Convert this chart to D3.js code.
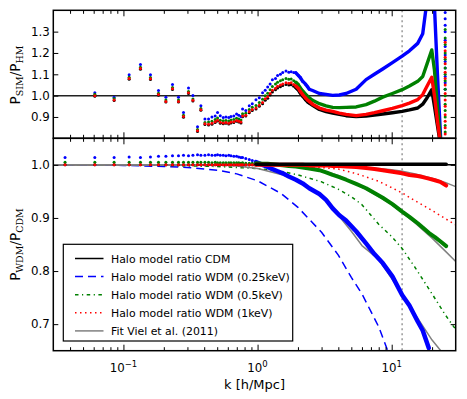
<!DOCTYPE html>
<html>
<head>
<meta charset="utf-8">
<script src="https://cdnjs.cloudflare.com/ajax/libs/d3/7.8.5/d3.min.js"></script>
<style>
  body { margin: 0; background: #fff; }
  text { font-family: "DejaVu Sans", sans-serif; }
</style>
</head>
<body>
<div id="chart"></div>
<script>
// k values (h/Mpc) of the simulation points
var kSparse = [0.0612, 0.0852, 0.1103, 0.1339, 0.159, 0.1825, 0.2073, 0.2321, 0.2573, 0.2804, 0.3055, 0.3296, 0.3566, 0.378, 0.405];
var kDense = [0.431, 0.457, 0.483, 0.503, 0.527, 0.555, 0.581, 0.610, 0.633, 0.665, 0.697, 0.724, 0.752, 0.773, 0.817, 0.867, 0.913, 0.973, 1.03, 1.09, 1.14, 1.19, 1.24, 1.29, 1.36, 1.41, 1.48, 1.54, 1.63, 1.71, 1.78, 1.86, 1.93, 2.01, 2.08, 2.17, 2.27, 2.37, 2.43];
var kLine = [2.57, 2.89, 3.24, 3.63, 4.07, 4.57, 5.43, 6.44, 7.43, 8.57, 10.12, 11.96, 13.56, 15.63, 17.03, 18.37, 19.89, 20.83, 21.93, 23.37];

// top panel: P_SIM / P_HM
var topBlue = [1.013, 0.992, 1.098, 1.146, 1.098, 1.024, 0.992, 1.052, 0.992, 0.921, 1.036, 1.001, 0.854, 0.953, 0.891,
  0.891, 0.90, 0.905, 0.921, 0.906, 0.898, 0.90, 0.897, 0.902, 0.905, 0.914, 0.908, 0.902, 0.937, 0.93, 0.953, 0.962, 0.981, 0.99, 1.013,
  1.025, 1.041, 1.055, 1.075, 1.08, 1.094, 1.10, 1.108, 1.115, 1.11, 1.112, 1.108, 1.107, 1.095, 1.085, 1.067, 1.055, 1.04, 1.03,
  1.024, 1.01, 1.006, 1.001, 1.003, 1.01, 1.03, 1.075, 1.10, 1.125, 1.155, 1.185, 1.21, 1.245, 1.29, 1.45, 1.6, 1.42, 1.1, 0.75];
var topGreen = [1.006, 0.986, 1.086, 1.133, 1.085, 1.011, 0.979, 1.038, 0.979, 0.908, 1.019, 0.984, 0.841, 0.94, 0.874,
  0.876, 0.88, 0.888, 0.895, 0.885, 0.882, 0.884, 0.881, 0.886, 0.888, 0.894, 0.89, 0.886, 0.915, 0.918, 0.935, 0.946, 0.954, 0.968, 0.983,
  1.0, 1.011, 1.027, 1.043, 1.054, 1.063, 1.07, 1.075, 1.08, 1.077, 1.078, 1.07, 1.063, 1.052, 1.037, 1.022, 1.008, 0.996, 0.99,
  0.978, 0.962, 0.952, 0.945, 0.944, 0.945, 0.947, 0.958, 0.974, 0.993, 1.01, 1.028, 1.045, 1.067, 1.09, 1.15, 1.214, 1.12, 0.95, 0.75];
var topRed = [1.0, 0.98, 1.08, 1.127, 1.079, 1.005, 0.973, 1.032, 0.973, 0.902, 1.013, 0.978, 0.835, 0.934, 0.868,
  0.866, 0.87, 0.878, 0.885, 0.875, 0.872, 0.874, 0.871, 0.876, 0.878, 0.884, 0.88, 0.876, 0.905, 0.908, 0.925, 0.935, 0.942, 0.955, 0.968,
  0.985, 0.995, 1.01, 1.025, 1.035, 1.044, 1.05, 1.055, 1.06, 1.058, 1.06, 1.052, 1.045, 1.035, 1.02, 1.005, 0.99, 0.978, 0.973,
  0.96, 0.942, 0.932, 0.926, 0.918, 0.912, 0.906, 0.912, 0.92, 0.929, 0.94, 0.953, 0.965, 0.981, 1.005, 1.045, 1.086, 1.0, 0.88, 0.75];
var topBlack = [0.997, 0.977, 1.077, 1.124, 1.076, 1.002, 0.97, 1.029, 0.97, 0.899, 1.01, 0.975, 0.832, 0.931, 0.865,
  0.862, 0.866, 0.874, 0.881, 0.871, 0.868, 0.87, 0.867, 0.872, 0.874, 0.88, 0.876, 0.872, 0.901, 0.904, 0.92, 0.93, 0.937, 0.95, 0.962,
  0.978, 0.988, 1.003, 1.017, 1.027, 1.036, 1.042, 1.047, 1.052, 1.05, 1.051, 1.044, 1.037, 1.027, 1.012, 0.997, 0.982, 0.97, 0.965,
  0.955, 0.935, 0.925, 0.918, 0.912, 0.906, 0.902, 0.904, 0.909, 0.914, 0.92, 0.926, 0.933, 0.942, 0.96, 0.99, 1.028, 0.95, 0.86, 0.75];

// scattered points at the last k bin
var kLast = 25.04;
var colBlue = [1.39, 1.36, 1.33, 1.30, 1.26, 1.23, 1.19, 1.16, 1.13, 1.09, 1.06, 1.03];
var colGreen = [1.31, 1.27, 1.24, 1.2, 1.17, 1.13, 1.1, 1.07, 1.03, 1.0, 0.96, 0.93, 0.9, 0.86, 0.83];
var colRed = [1.25, 1.21, 1.18, 1.15, 1.11, 1.08, 1.05, 1.01, 0.98, 0.95, 0.91, 0.88, 0.85, 0.82];

// bottom panel: P_WDM / P_CDM from simulations
var kBotDots = [0.0367, 0.0612, 0.0852, 0.1103, 0.1339, 0.159, 0.1825, 0.2073, 0.2321, 0.2573, 0.2804, 0.3055, 0.3296, 0.3566, 0.378, 0.405,
  0.431, 0.457, 0.483, 0.503, 0.527, 0.555, 0.581, 0.610, 0.633, 0.665, 0.697, 0.724, 0.752, 0.773, 0.817, 0.867, 0.913, 0.973];
var botDotBlue = [1.014, 1.014, 1.014, 1.015, 1.014, 1.015, 1.016, 1.016, 1.017, 1.017, 1.018, 1.017, 1.018, 1.019, 1.018, 1.018, 1.019,
  1.018, 1.018, 1.019, 1.018, 1.018, 1.017, 1.018, 1.017, 1.016, 1.016, 1.015, 1.014, 1.014, 1.012, 1.01, 1.008, 1.005];
var botDotGreen = [1.005, 1.005, 1.005, 1.005, 1.005, 1.005, 1.005, 1.005, 1.005, 1.005, 1.005, 1.005, 1.005, 1.005, 1.005, 1.005, 1.005,
  1.004, 1.005, 1.004, 1.004, 1.004, 1.004, 1.004, 1.004, 1.004, 1.004, 1.004, 1.003, 1.004, 1.003, 1.003, 1.003, 1.003];
var botDotRed = [1.0, 1.0, 1.0, 1.0, 1.0, 1.0, 1.0, 1.0, 1.0, 1.0, 1.0, 1.0, 1.0, 1.0, 1.0, 1.0, 1.0,
  1.0, 1.0, 1.0, 1.0, 1.0, 1.0, 1.0, 1.0, 1.0, 1.0, 1.0, 1.0, 1.0, 1.0, 1.0, 1.0, 1.0];

var kBotLine = [0.973, 1.09, 1.19, 1.29, 1.41, 1.54, 1.71, 1.93, 2.17, 2.43, 2.89, 3.24, 3.63, 4.07, 4.57, 5.43, 6.44, 7.43, 8.57, 10.12,
  11.96, 13.56, 15.63, 17.03, 18.9, 21.0, 23.0, 25.5];
var botBlue = [1.005, 1.0, 0.996, 0.992, 0.988, 0.984, 0.978, 0.972, 0.965, 0.956, 0.945, 0.934, 0.918, 0.905, 0.895, 0.875, 0.852, 0.832,
  0.815, 0.79, 0.755, 0.735, 0.705, 0.688, 0.655, null, null, null];
var botGreen = [1.003, 1.002, 1.002, 1.001, 1.0, 0.999, 0.998, 0.997, 0.995, 0.993, 0.99, 0.986, 0.981, 0.977, 0.972, 0.964, 0.956, 0.947,
  0.938, 0.926, 0.912, 0.902, 0.89, 0.882, 0.872, 0.864, 0.856, 0.847];
var botRed = [1.0, 1.0, 1.0, 1.0, 1.0, 1.0, 1.0, 1.0, 1.0, 0.999, 0.999, 0.999, 0.998, 0.998, 0.997, 0.996, 0.994, 0.992,
  0.99, 0.987, 0.984, 0.981, 0.979, 0.977, 0.974, 0.971, 0.968, 0.961];
var botBlack = [1.001, 1.001, 1.001, 1.001, 1.001, 1.001, 1.001, 1.001, 1.001, 1.001, 1.001, 1.001, 1.001, 1.001, 1.001, 1.001, 1.001, 1.001,
  1.001, 1.001, 1.001, 1.001, 1.001, 1.001, 1.001, 1.001, 1.001, 1.001];

// halo model and fit curves
var kModel = [0.03, 0.1, 0.2, 0.3, 0.5, 0.7, 1, 1.5, 2, 3, 4, 5, 6, 8, 10, 12, 15, 20, 25, 30];
var hmCDM = [1.0, 1.0, 1.0, 1.0, 1.0, 1.0, 1.0, 1.0, 1.0, 1.0, 1.0, 1.0, 1.0, 1.0, 1.0, 1.0, 1.0, 1.0, 1.0, 1.0];
var hmWDM025 = [1.0, 0.999, 0.997, 0.995, 0.99, 0.983, 0.97, 0.946, 0.92, 0.873, 0.83, 0.788, 0.757, 0.695, 0.63, null, null, null, null, null];
var hmWDM05 = [1.0, 1.0, 0.999, 0.998, 0.997, 0.995, 0.993, 0.988, 0.981, 0.968, 0.954, 0.94, 0.925, 0.888, 0.865, 0.842, 0.806, 0.757, 0.718, 0.69];
var hmWDM1 = [1.0, 1.0, 1.0, 1.0, 1.0, 0.999, 0.999, 0.998, 0.997, 0.995, 0.992, 0.986, 0.98, 0.969, 0.957, 0.947, 0.932, 0.914, 0.899, 0.887];
var fitWDM025 = [1.0, 1.0, 1.0, 1.0, 1.0, 0.998, 0.993, 0.982, 0.97, 0.942, 0.905, 0.875, 0.848, 0.822, 0.786, 0.758, 0.718, 0.67, 0.64, null];
var fitWDM05 = [1.0, 1.0, 1.0, 1.0, 1.0, 1.0, 0.999, 0.998, 0.996, 0.99, 0.98, 0.968, 0.958, 0.94, 0.925, 0.91, 0.89, 0.862, 0.838, 0.818];
var fitWDM1 = [1.0, 1.0, 1.0, 1.0, 1.0, 1.0, 1.0, 1.0, 1.0, 0.999, 0.998, 0.996, 0.995, 0.993, 0.991, 0.988, 0.983, 0.975, 0.967, 0.959];

var kNyquist = 11.96;

var legendLabels = ['Halo model ratio CDM', 'Halo model ratio WDM (0.25keV)', 'Halo model ratio WDM (0.5keV)',
  'Halo model ratio WDM (1keV)', 'Fit Viel et al. (2011)'];

var BLUE = '#0000ff', GREEN = '#008000', RED = '#ff0000', GRAY = '#808080';

var width = 467, height = 399;
var left = 53.3, right = 455.7, top1 = 10.3, mid = 138.3, bottom = 350.7;

var x = d3.scaleLog().domain([0.03, 30]).range([left, right]);
var yTop = d3.scaleLinear().domain([0.8, 1.4]).range([mid, top1]);
var yBot = d3.scaleLinear().domain([0.65, 1.05]).range([bottom, mid]);

var svg = d3.select('#chart').append('svg')
  .attr('width', width)
  .attr('height', height);

svg.append('rect').attr('width', width).attr('height', height).attr('fill', '#fff');

var defs = svg.append('defs');
defs.append('clipPath').attr('id', 'clipTop').append('rect')
  .attr('x', left).attr('y', top1).attr('width', right - left).attr('height', mid - top1);
defs.append('clipPath').attr('id', 'clipBot').append('rect')
  .attr('x', left).attr('y', mid).attr('width', right - left).attr('height', bottom - mid);

function zip(ks, vs) {
  return ks.map(function(k, i) { return [k, vs[i]]; });
}

function drawLine(g, y, ks, vs, color, w, dash) {
  var line = d3.line()
    .defined(function(d) { return d[1] != null; })
    .x(function(d) { return x(d[0]); })
    .y(function(d) { return y(d[1]); });
  g.append('path')
    .datum(zip(ks, vs))
    .attr('d', line)
    .attr('fill', 'none')
    .attr('stroke', color)
    .attr('stroke-width', w)
    .attr('stroke-linejoin', 'round')
    .attr('stroke-linecap', dash ? 'butt' : 'round')
    .attr('stroke-dasharray', dash || null);
}

function drawDots(g, y, ks, vs, color) {
  g.append('g')
    .selectAll('circle')
    .data(zip(ks, vs).filter(function(d) { return d[1] != null; }))
    .enter().append('circle')
      .attr('cx', function(d) { return x(d[0]); })
      .attr('cy', function(d) { return y(d[1]); })
      .attr('r', 1.5)
      .attr('fill', color);
}

// ---- top panel
var gTop = svg.append('g').attr('clip-path', 'url(#clipTop)');

gTop.append('line')
  .attr('x1', left).attr('x2', right)
  .attr('y1', yTop(1)).attr('y2', yTop(1))
  .attr('stroke', '#222').attr('stroke-width', 1.5);

gTop.append('line')
  .attr('x1', x(kNyquist)).attr('x2', x(kNyquist))
  .attr('y1', top1).attr('y2', mid)
  .attr('stroke', '#999').attr('stroke-width', 1.5).attr('stroke-dasharray', '2,3');

var kTop = kSparse.concat(kDense, kLine);
var nDots = kSparse.length + kDense.length;
var lineStart = kSparse.length + kDense.length - 7;

[[topBlack, 'black'], [topBlue, BLUE], [topGreen, GREEN], [topRed, RED]].forEach(function(s) {
  drawDots(gTop, yTop, kTop.slice(0, nDots), s[0].slice(0, nDots), s[1]);
  drawLine(gTop, yTop, kTop.slice(lineStart), s[0].slice(lineStart), s[1], 3.4);
});

drawDots(gTop, yTop, colBlue.map(function() { return kLast; }), colBlue, BLUE);
drawDots(gTop, yTop, colGreen.map(function() { return kLast; }), colGreen, GREEN);
drawDots(gTop, yTop, colRed.map(function() { return kLast; }), colRed, RED);

// ---- bottom panel
var gBot = svg.append('g').attr('clip-path', 'url(#clipBot)');

gBot.append('line')
  .attr('x1', x(kNyquist)).attr('x2', x(kNyquist))
  .attr('y1', mid).attr('y2', bottom)
  .attr('stroke', '#999').attr('stroke-width', 1.5).attr('stroke-dasharray', '2,3');

drawLine(gBot, yBot, kModel, hmCDM, 'black', 1.5);
drawLine(gBot, yBot, kModel, hmWDM025, BLUE, 1.5, '8,5');
drawLine(gBot, yBot, kModel, hmWDM05, GREEN, 1.5, '3.5,3.5,1.2,3.5');
drawLine(gBot, yBot, kModel, hmWDM1, RED, 1.5, '1.5,3.5');
drawLine(gBot, yBot, kModel, fitWDM025, GRAY, 1.5);
drawLine(gBot, yBot, kModel, fitWDM05, GRAY, 1.5);
drawLine(gBot, yBot, kModel, fitWDM1, GRAY, 1.5);

drawDots(gBot, yBot, kBotDots, botDotRed, 'black');
drawDots(gBot, yBot, kBotDots, botDotBlue, BLUE);
drawDots(gBot, yBot, kBotDots, botDotGreen, GREEN);
drawDots(gBot, yBot, kBotDots, botDotRed, RED);

drawLine(gBot, yBot, kBotLine, botBlue, BLUE, 4.5);
drawLine(gBot, yBot, kBotLine, botGreen, GREEN, 4);
drawLine(gBot, yBot, kBotLine, botRed, RED, 4);
drawLine(gBot, yBot, kBotLine, botBlack, 'black', 3.5);

// ---- axes (ticks point inward, on all four sides)
var majorK = [0.1, 1, 10];
var minorK = [0.04, 0.05, 0.06, 0.07, 0.08, 0.09, 0.2, 0.3, 0.4, 0.5, 0.6, 0.7, 0.8, 0.9, 2, 3, 4, 5, 6, 7, 8, 9, 20];

function xTicks(yPos, up) {
  var make = up ? d3.axisBottom : d3.axisTop;
  svg.append('g').attr('transform', 'translate(0,' + yPos + ')')
    .call(make(x).tickValues(majorK).tickSize(-6).tickFormat(''))
    .call(function(g) { g.select('.domain').remove(); });
  svg.append('g').attr('transform', 'translate(0,' + yPos + ')')
    .call(make(x).tickValues(minorK).tickSize(-3.5).tickFormat(''))
    .call(function(g) { g.select('.domain').remove(); });
}
xTicks(mid, true);
xTicks(top1, false);
xTicks(mid, false);
xTicks(bottom, true);

function yTicks(y, vals) {
  svg.append('g').attr('transform', 'translate(' + left + ',0)')
    .call(d3.axisLeft(y).tickValues(vals).tickSize(-5).tickPadding(3.5).tickFormat(d3.format('.1f')))
    .call(function(g) {
      g.select('.domain').remove();
      g.selectAll('text').attr('font-size', 11.8).attr('fill', '#000').attr('font-family', 'DejaVu Sans');
    });
  svg.append('g').attr('transform', 'translate(' + right + ',0)')
    .call(d3.axisRight(y).tickValues(vals).tickSize(-5).tickFormat(''))
    .call(function(g) { g.select('.domain').remove(); });
}
yTicks(yTop, [0.9, 1.0, 1.1, 1.2, 1.3]);
yTicks(yBot, [0.7, 0.8, 0.9, 1.0]);

svg.selectAll('.tick line').attr('stroke', '#000').attr('stroke-width', 1);

// frames
[[top1, mid], [mid, bottom]].forEach(function(r) {
  svg.append('rect')
    .attr('x', left).attr('y', r[0])
    .attr('width', right - left).attr('height', r[1] - r[0])
    .attr('fill', 'none').attr('stroke', '#000').attr('stroke-width', 1.5);
});

// x tick labels 10^n
[[0.1, '\u22121'], [1, '0'], [10, '1']].forEach(function(t) {
  var txt = svg.append('text')
    .attr('x', x(t[0]))
    .attr('y', 371.5)
    .attr('text-anchor', 'middle')
    .attr('font-size', 11.8);
  txt.append('tspan').text('10');
  txt.append('tspan').attr('dy', -5).attr('font-size', 8.5).text(t[1]);
});

svg.append('text')
  .attr('x', (left + right) / 2)
  .attr('y', 389)
  .attr('text-anchor', 'middle')
  .attr('font-size', 13)
  .text('k [h/Mpc]');

// y labels like P_SIM/P_HM
function ratioLabel(cx, cy, num, den) {
  var txt = svg.append('text')
    .attr('transform', 'translate(' + cx + ',' + cy + ') rotate(-90)')
    .attr('text-anchor', 'middle')
    .attr('font-size', 13.5);
  txt.append('tspan').text('P');
  txt.append('tspan').attr('dy', 3).attr('font-size', 9.5).attr('font-family', 'DejaVu Serif').text(num);
  txt.append('tspan').attr('dy', -3).text('/P');
  txt.append('tspan').attr('dy', 3).attr('font-size', 9.5).attr('font-family', 'DejaVu Serif').text(den);
}
ratioLabel(20, 75, 'SIM', 'HM');
ratioLabel(20, 244.5, 'WDM', 'CDM');

// legend
var legX = 63.3, legY = 244.3, legW = 229.4, legH = 96.7;
var legend = svg.append('g');
legend.append('rect')
  .attr('x', legX).attr('y', legY).attr('width', legW).attr('height', legH)
  .attr('fill', '#fff').attr('stroke', '#000').attr('stroke-width', 1.2);

var legStyles = [['black', null], [BLUE, '8,5'], [GREEN, '3.5,3.5,1.2,3.5'], [RED, '1.5,3.5'], [GRAY, null]];
legendLabels.forEach(function(lab, i) {
  var yy = 258.5 + i * 18.1;
  legend.append('line')
    .attr('x1', 75).attr('x2', 103.5)
    .attr('y1', yy).attr('y2', yy)
    .attr('stroke', legStyles[i][0])
    .attr('stroke-width', 1.5)
    .attr('stroke-dasharray', legStyles[i][1]);
  legend.append('text')
    .attr('x', 111)
    .attr('y', yy + 4)
    .attr('font-size', 10.9)
    .text(lab);
});
</script>
</body>
</html>
